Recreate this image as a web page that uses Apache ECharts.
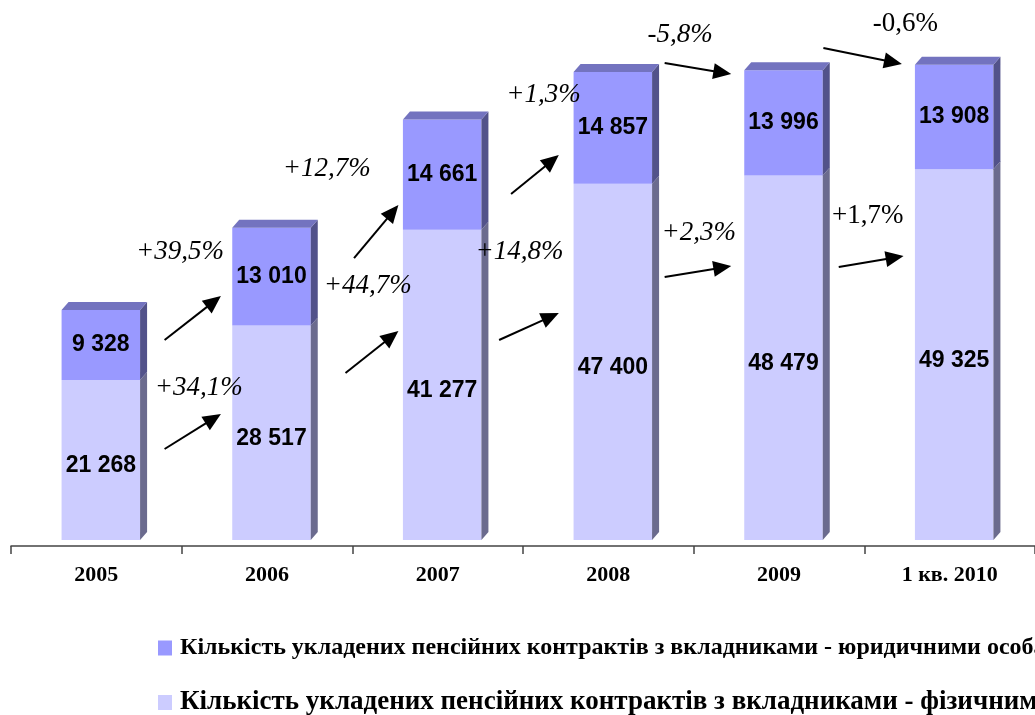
<!DOCTYPE html>
<html>
<head>
<meta charset="utf-8">
<script src="https://cdn.jsdelivr.net/npm/echarts@6/dist/echarts.min.js"></script>
<style>
  html, body { margin: 0; padding: 0; background: #fff; }
  #chart { width: 1035px; height: 715px; }
</style>
</head>
<body>
<div id="chart"></div>
<script>
const years = ['2005', '2006', '2007', '2008', '2009', '1 кв. 2010'];
const individuals = [21268, 28517, 41277, 47400, 48479, 49325];
const legalEntities = [9328, 13010, 14661, 14857, 13996, 13908];
const seriesNames = [
  'Кількість укладених пенсійних контрактів з вкладниками - юридичними особами',
  'Кількість укладених пенсійних контрактів з вкладниками - фізичними особами'
];
const growthLegal = ['+39,5%', '+12,7%', '+1,3%', '-5,8%', '-0,6%'];
const growthIndividuals = ['+34,1%', '+44,7%', '+14,8%', '+2,3%', '+1,7%'];

// annotation anchors: [category position, value] in chart units
const legalArrows = [[0.40, 26600, 0.73, 32450], [1.51, 37500, 1.77, 44560], [2.43, 46020, 2.71, 51200], [3.33, 63440, 3.72, 61980], [4.26, 65440, 4.72, 63310]];
const indivArrows = [[0.40, 12100, 0.73, 16760], [1.46, 22210, 1.77, 27800], [2.36, 26600, 2.71, 30190], [3.33, 34980, 3.72, 36440], [4.35, 36310, 4.73, 37770]];
const legalLabelPos = [[0.49, 38300], [1.35, 49340], [2.62, 59190], [3.42, 67170], [4.74, 68630]];
const indivLabelPos = [[0.60, 20220], [1.59, 33780], [2.48, 38300], [3.53, 40830], [4.52, 43090]];

const fmt = v => String(v).replace(/\B(?=(\d{3})+(?!\d))/g, ' ');

const lowerData = individuals.map((v, i) => [i, 0, v]);
const upperData = legalEntities.map((v, i) => [i, individuals[i], individuals[i] + v]);

function makeBar(colors, withTop, labelShift) {
  return function (params, api) {
    const i = api.value(0);
    const lo = api.value(1), hi = api.value(2);
    const pb = api.coord([i, lo]);
    const pt = api.coord([i, hi]);
    const w = api.size([1, 0])[0] * 0.46;
    const left = pb[0] - w / 2 + 4.5, right = left + w;
    const dx = 7, dy = 8;
    const kids = [
      { type: 'rect', shape: { x: left, y: pt[1], width: w, height: pb[1] - pt[1] }, style: { fill: colors.front } },
      { type: 'polygon', shape: { points: [[right, pt[1]], [right + dx, pt[1] - dy], [right + dx, pb[1] - dy], [right, pb[1]]] }, style: { fill: colors.side } }
    ];
    if (withTop) {
      kids.push({ type: 'polygon', shape: { points: [[left, pt[1]], [left + dx, pt[1] - dy], [right + dx, pt[1] - dy], [right, pt[1]]] }, style: { fill: colors.top } });
    }
    kids.push({
      type: 'text',
      style: {
        text: fmt(hi - lo), x: (left + right) / 2, y: (pt[1] + pb[1]) / 2 + labelShift,
        align: 'center', verticalAlign: 'middle',
        fontFamily: '"Liberation Sans", Arial, sans-serif', fontWeight: 'bold', fontSize: 23, fill: '#000'
      }
    });
    return { type: 'group', children: kids };
  };
}

function renderArrow(params, api) {
  const a = api.coord([api.value(0), api.value(1)]);
  const b = api.coord([api.value(2), api.value(3)]);
  const ang = Math.atan2(b[1] - a[1], b[0] - a[0]);
  const c = Math.cos(ang), s = Math.sin(ang);
  const L = 18, H = 8;
  const base = [b[0] - L * c, b[1] - L * s];
  return {
    type: 'group',
    children: [
      { type: 'line', shape: { x1: a[0], y1: a[1], x2: base[0] + 2 * c, y2: base[1] + 2 * s }, style: { stroke: '#000', lineWidth: 2 } },
      { type: 'polygon', shape: { points: [b, [base[0] - H * s, base[1] + H * c], [base[0] + H * s, base[1] - H * c]] }, style: { fill: '#000' } }
    ]
  };
}

const growthTexts = growthLegal.concat(growthIndividuals);
function renderGrowth(params, api) {
  const p = api.coord([api.value(0), api.value(1)]);
  const upright = params.dataIndex % 5 === 4;
  return {
    type: 'text',
    style: {
      text: growthTexts[params.dataIndex], x: p[0], y: p[1], align: 'center', verticalAlign: 'middle',
      fontFamily: '"Liberation Serif", "Times New Roman", serif', fontStyle: upright ? 'normal' : 'italic',
      fontSize: 27, fill: '#000'
    }
  };
}

const chart = echarts.init(document.getElementById('chart'));
chart.setOption({
  animation: false,
  grid: { left: 11, width: 1032, top: 10, bottom: 169 },
  legend: [
    {
      data: [seriesNames[0]], left: 158, top: 636, padding: 0, icon: 'rect', itemWidth: 14, itemHeight: 15,
      selectedMode: false,
      textStyle: { fontFamily: '"Liberation Serif", "Times New Roman", serif', fontWeight: 'bold', fontSize: 24, color: '#000', padding: [0, 0, 0, 3] }
    },
    {
      data: [seriesNames[1]], left: 158, top: 689, padding: 0, icon: 'rect', itemWidth: 14, itemHeight: 15,
      selectedMode: false,
      textStyle: { fontFamily: '"Liberation Serif", "Times New Roman", serif', fontWeight: 'bold', fontSize: 27, color: '#000', padding: [0, 0, 0, 3] }
    }
  ],
  xAxis: [
    {
      type: 'category', data: years,
      axisLine: { onZero: false, lineStyle: { color: '#444', width: 1.5 } },
      axisTick: { show: true, length: 8, lineStyle: { color: '#444', width: 1.5 } },
      axisLabel: { fontFamily: '"Liberation Serif", "Times New Roman", serif', fontWeight: 'bold', fontSize: 22, color: '#000', margin: 18 }
    },
    { type: 'value', min: -0.5, max: 5.5, show: false }
  ],
  yAxis: { type: 'value', min: -800, max: 70500, show: false },
  series: [
    {
      name: seriesNames[1], type: 'custom', silent: true, xAxisIndex: 0,
      itemStyle: { color: '#CCCCFF' },
      encode: { x: 0, y: [1, 2] },
      renderItem: makeBar({ front: '#CCCCFF', side: '#6B6B8E' }, false, 6),
      data: lowerData
    },
    {
      name: seriesNames[0], type: 'custom', silent: true, xAxisIndex: 0,
      itemStyle: { color: '#9999FF' },
      encode: { x: 0, y: [1, 2] },
      renderItem: makeBar({ front: '#9999FF', side: '#52528A', top: '#7373BF' }, true, 0),
      data: upperData
    },
    {
      type: 'custom', silent: true, xAxisIndex: 1,
      encode: { x: [0, 2], y: [1, 3] },
      renderItem: renderArrow,
      data: legalArrows.concat(indivArrows)
    },
    {
      type: 'custom', silent: true, xAxisIndex: 1,
      encode: { x: 0, y: 1 },
      renderItem: renderGrowth,
      data: legalLabelPos.concat(indivLabelPos)
    }
  ]
});
</script>
</body>
</html>
